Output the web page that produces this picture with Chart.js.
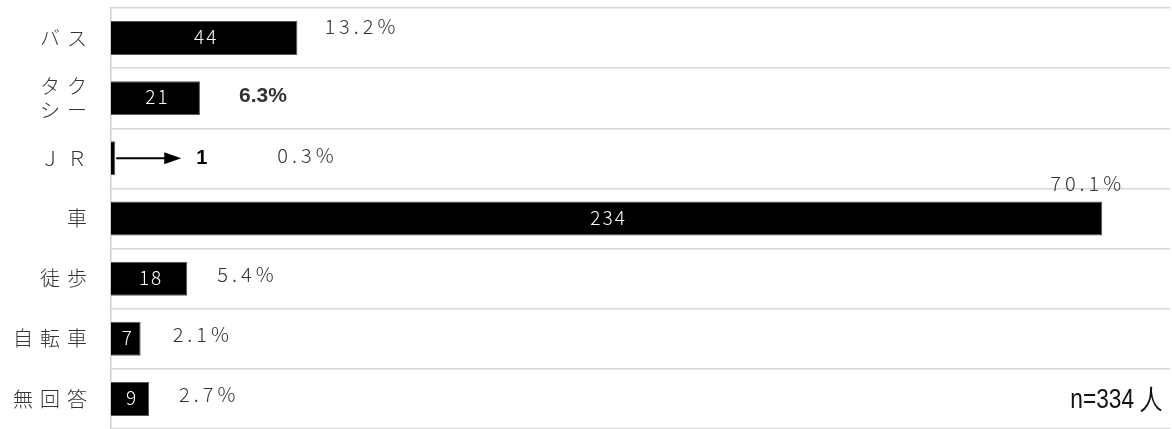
<!DOCTYPE html>
<html>
<head>
<meta charset="utf-8">
<script src="https://cdn.jsdelivr.net/npm/chart.js@4"></script>
<style>
  html, body { margin: 0; padding: 0; background: #fff; }
  #c { display: block; }
</style>
</head>
<body>
<canvas id="c" width="1172" height="429"></canvas>
<script>
// ---- data ----
const categories = ['バス', ['タク', 'シー'], 'ＪＲ', '車', '徒歩', '自転車', '無回答'];
const counts = [44, 21, 1, 234, 18, 7, 9];
const percents = [13.2, 6.3, 0.3, 70.1, 5.4, 2.1, 2.7];
const sampleNote = 'n=334 人';
const axisMax = 250;

const labelPlugin = {
  id: 'barLabels',
  beforeDraw(chart, args, opts) {
    chart.ctx.letterSpacing = opts.tickSpacing;
  },
  afterDraw(chart, args, opts) {
    const ctx = chart.ctx;
    const meta = chart.getDatasetMeta(0);
    meta.data.forEach((bar, i) => {
      const w = Math.abs(bar.x - bar.base);
      ctx.save();
      if (w > 14) {
        ctx.letterSpacing = '2px';
        ctx.font = '300 19px "Noto Sans CJK JP"';
        ctx.fillStyle = '#fff';
        ctx.textAlign = 'center';
        ctx.textBaseline = 'middle';
        ctx.fillText(String(counts[i]), (bar.x + bar.base) / 2 + 2, bar.y - 1);
      } else {
        const x0 = bar.x + 1, y = bar.y;
        ctx.strokeStyle = '#000';
        ctx.fillStyle = '#000';
        ctx.lineWidth = 2;
        ctx.beginPath();
        ctx.moveTo(x0, y);
        ctx.lineTo(x0 + 50, y);
        ctx.stroke();
        ctx.beginPath();
        ctx.moveTo(x0 + 65, y);
        ctx.lineTo(x0 + 48, y - 6);
        ctx.lineTo(x0 + 48, y + 6);
        ctx.closePath();
        ctx.fill();
        ctx.letterSpacing = '0px';
        ctx.font = 'bold 20px "Liberation Sans"';
        ctx.textAlign = 'left';
        ctx.textBaseline = 'middle';
        ctx.fillText(String(counts[i]), x0 + 80, y);
      }
      ctx.restore();
      ctx.save();
      const off = opts.pctOffsets[i];
      ctx.textAlign = 'left';
      ctx.textBaseline = 'middle';
      if (i === 1) {
        ctx.letterSpacing = '0px';
        ctx.font = 'bold 21px "Liberation Sans"';
        ctx.fillStyle = '#333';
      } else {
        ctx.letterSpacing = '4px';
        ctx.font = '300 20px "Noto Sans CJK JP"';
        ctx.fillStyle = '#333';
      }
      ctx.fillText(percents[i].toFixed(1) + '%', bar.x + off[0], bar.y + off[1]);
      ctx.restore();
    });
    ctx.save();
    ctx.letterSpacing = '0px';
    ctx.font = '27px "Liberation Sans", sans-serif';
    ctx.fillStyle = '#111';
    ctx.textAlign = 'right';
    ctx.textBaseline = 'alphabetic';
    const rx = chart.chartArea.right - 7, by = chart.chartArea.bottom - 21;
    ctx.translate(rx, by);
    ctx.scale(0.84, 1);
    ctx.fillText(sampleNote, 0, 0);
    ctx.restore();
  }
};

new Chart(document.getElementById('c'), {
  type: 'bar',
  data: {
    labels: categories,
    datasets: [{
      data: counts,
      backgroundColor: '#000',
      borderColor: '#555',
      borderWidth: 1,
      barPercentage: 0.565,
      categoryPercentage: 1
    }]
  },
  options: {
    indexAxis: 'y',
    responsive: false,
    devicePixelRatio: 1,
    animation: false,
    layout: { padding: { top: 8, right: 2, left: 0, bottom: 0 } },
    plugins: {
      legend: { display: false },
      tooltip: { enabled: false },
      barLabels: {
        tickSpacing: '7px',
        pctOffsets: [[27, -12], [39, -2], [162, -3], [-52, -35], [30, -4], [32, -4], [30, -5]]
      }
    },
    scales: {
      x: {
        min: 0,
        max: axisMax,
        display: false
      },
      y: {
        afterFit(scale) {
          scale.width = 111;
          scale.paddingTop = 0;
          scale.paddingBottom = 0;
        },
        grid: { color: '#d6d6d6', lineWidth: 1.5, drawTicks: false, offset: true },
        border: { color: '#d0d0d0', width: 1.5 },
        ticks: {
          color: '#333',
          padding: 17,
          font: { family: '"Noto Sans CJK JP"', size: 20, weight: '300', lineHeight: 1.2 }
        }
      }
    }
  },
  plugins: [labelPlugin]
});
</script>
</body>
</html>
